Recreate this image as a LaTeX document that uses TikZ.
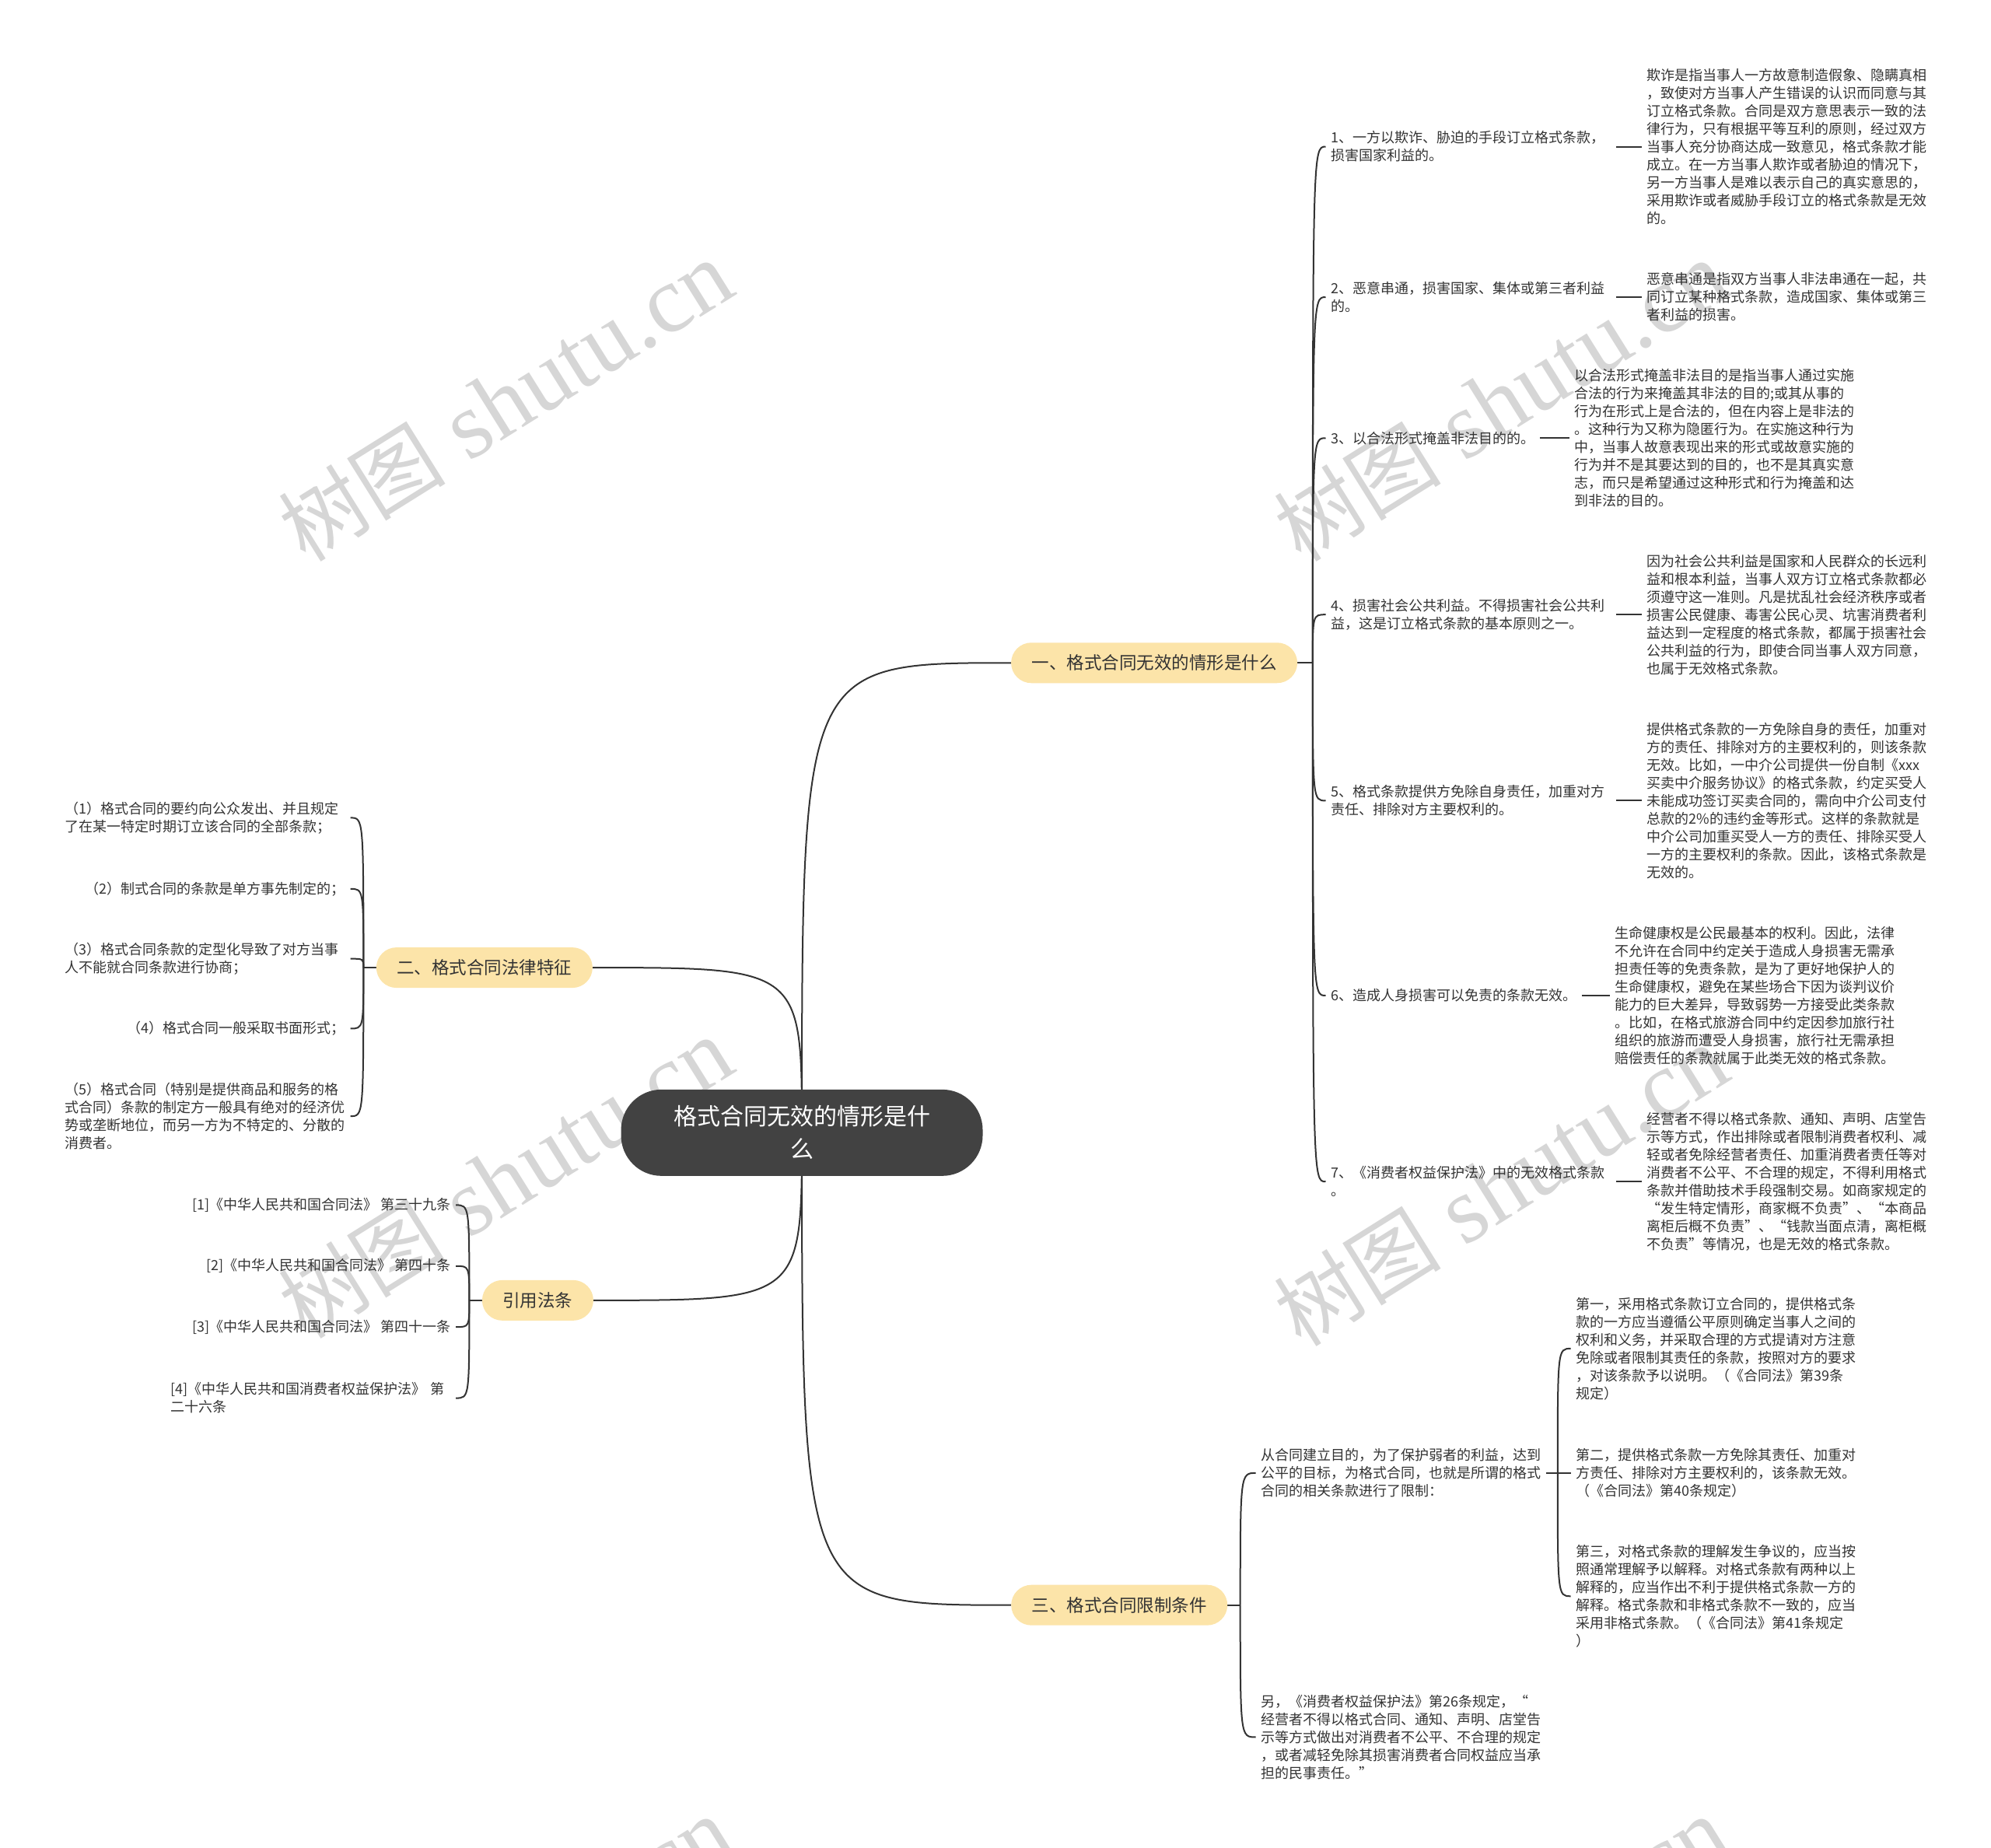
\documentclass[tikz,border=0pt]{standalone}
\usepackage{fontspec}
\setmainfont{Noto Sans CJK SC}
\newfontfamily\wmlatin{Liberation Serif}
\usetikzlibrary{calc}
\definecolor{lvone}{HTML}{FCE4A9}
\definecolor{rootc}{HTML}{424242}
\definecolor{ink}{HTML}{333333}
\definecolor{linec}{HTML}{333333}
\definecolor{wmc}{HTML}{D6D6D6}
\pgfdeclarelayer{bg}
\pgfsetlayers{bg,main}
\tikzset{
  rootnode/.style={rounded corners=52pt, fill=rootc, text=white, minimum width=465pt,
    minimum height=111pt, align=center, font=\fontsize{30pt}{42pt}\selectfont, inner sep=0pt},
  topic/.style={rounded corners=26pt, fill=lvone, text=ink, minimum height=52pt,
    inner xsep=26.5pt, inner ysep=0pt, font=\fontsize{22.5pt}{27pt}\selectfont},
  txt/.style={text=ink, align=left, inner xsep=6.5pt, inner ysep=0pt,
    font=\fontsize{18pt}{23pt}\selectfont},
  wtxt/.style={txt, text width=360pt},
  link/.style={draw=linec, line width=2pt},
  wm/.style={text=wmc, rotate=32, inner sep=0pt},
}
\newcommand{\wmtext}{{\fontsize{108pt}{108pt}\selectfont 树图}{\wmlatin\fontsize{122pt}{122pt}\selectfont\ shutu.cn}}
\begin{document}
\begin{tikzpicture}[x=1.632653pt, y=-1.632653pt]
\useasboundingbox (0,0) rectangle (1568,1455);
% watermarks
\begin{pgfonlayer}{bg}
\node[wm] (w1) at (398,316) {\wmtext};
\node[wm] (w2) at (1182,316) {\wmtext};
\node[wm] (w3) at (398,928) {\wmtext};
\node[wm] (w4) at (1182,934) {\wmtext};
\node[wm] (w5) at (398,1542) {\wmtext};
\node[wm] (w6) at (1182,1542) {\wmtext};
\end{pgfonlayer}

% root and topics
\node[rootnode] (root) at (631.5,892) {格式合同无效的情形是什\\么};
\node[topic] (t1) at (909,522) {一、格式合同无效的情形是什么};
\node[topic] (t2) at (381.5,762) {二、格式合同法律特征};
\node[topic] (t3) at (423.5,1024) {引用法条};
\node[topic] (t4) at (881.5,1264) {三、格式合同限制条件};

% branch one
\node[wtxt, anchor=west] (c1) at (1044,115.5) {1、一方以欺诈、胁迫的手段订立格式条款，\\损害国家利益的。};
\node[wtxt, anchor=west] (c2) at (1044,234) {2、恶意串通，损害国家、集体或第三者利益\\的。};
\node[txt, anchor=west] (c3) at (1044,345) {3、以合法形式掩盖非法目的的。};
\node[wtxt, anchor=west] (c4) at (1044,484) {4、损害社会公共利益。不得损害社会公共利\\益，这是订立格式条款的基本原则之一。};
\node[wtxt, anchor=west] (c5) at (1044,630.5) {5、格式条款提供方免除自身责任，加重对方\\责任、排除对方主要权利的。};
\node[txt, anchor=west] (c6) at (1044,784) {6、造成人身损害可以免责的条款无效。};
\node[wtxt, anchor=west] (c7) at (1044,930.5) {7、《消费者权益保护法》中的无效格式条款\\。};

\node[wtxt, anchor=west] (l1) at (1293,115.5) {欺诈是指当事人一方故意制造假象、隐瞒真相\\，致使对方当事人产生错误的认识而同意与其\\订立格式条款。合同是双方意思表示一致的法\\律行为，只有根据平等互利的原则，经过双方\\当事人充分协商达成一致意见，格式条款才能\\成立。在一方当事人欺诈或者胁迫的情况下，\\另一方当事人是难以表示自己的真实意思的，\\采用欺诈或者威胁手段订立的格式条款是无效\\的。};
\node[wtxt, anchor=west] (l2) at (1293,234) {恶意串通是指双方当事人非法串通在一起，共\\同订立某种格式条款，造成国家、集体或第三\\者利益的损害。};
\node[wtxt, anchor=west] (l3) at (1236,345) {以合法形式掩盖非法目的是指当事人通过实施\\合法的行为来掩盖其非法的目的;或其从事的\\行为在形式上是合法的，但在内容上是非法的\\。这种行为又称为隐匿行为。在实施这种行为\\中，当事人故意表现出来的形式或故意实施的\\行为并不是其要达到的目的，也不是其真实意\\志，而只是希望通过这种形式和行为掩盖和达\\到非法的目的。};
\node[wtxt, anchor=west] (l4) at (1293,484) {因为社会公共利益是国家和人民群众的长远利\\益和根本利益，当事人双方订立格式条款都必\\须遵守这一准则。凡是扰乱社会经济秩序或者\\损害公民健康、毒害公民心灵、坑害消费者利\\益达到一定程度的格式条款，都属于损害社会\\公共利益的行为，即使合同当事人双方同意，\\也属于无效格式条款。};
\node[wtxt, anchor=west] (l5) at (1293,630.5) {提供格式条款的一方免除自身的责任，加重对\\方的责任、排除对方的主要权利的，则该条款\\无效。比如，一中介公司提供一份自制《xxx\\买卖中介服务协议》的格式条款，约定买受人\\未能成功签订买卖合同的，需向中介公司支付\\总款的2\%的违约金等形式。这样的条款就是\\中介公司加重买受人一方的责任、排除买受人\\一方的主要权利的条款。因此，该格式条款是\\无效的。};
\node[wtxt, anchor=west] (l6) at (1268,784) {生命健康权是公民最基本的权利。因此，法律\\不允许在合同中约定关于造成人身损害无需承\\担责任等的免责条款，是为了更好地保护人的\\生命健康权，避免在某些场合下因为谈判议价\\能力的巨大差异，导致弱势一方接受此类条款\\。比如，在格式旅游合同中约定因参加旅行社\\组织的旅游而遭受人身损害，旅行社无需承担\\赔偿责任的条款就属于此类无效的格式条款。};
\node[wtxt, anchor=west] (l7) at (1293,930.5) {经营者不得以格式条款、通知、声明、店堂告\\示等方式，作出排除或者限制消费者权利、减\\轻或者免除经营者责任、加重消费者责任等对\\消费者不公平、不合理的规定，不得利用格式\\条款并借助技术手段强制交易。如商家规定的\\“发生特定情形，商家概不负责”、“本商品\\离柜后概不负责”、“钱款当面点清，离柜概\\不负责”等情况，也是无效的格式条款。};

% branch two
\node[wtxt, anchor=east] (d1) at (276,644) {（1）格式合同的要约向公众发出、并且规定\\了在某一特定时期订立该合同的全部条款；};
\node[txt, anchor=east] (d2) at (276,700) {（2）制式合同的条款是单方事先制定的；};
\node[wtxt, anchor=east] (d3) at (276,755) {（3）格式合同条款的定型化导致了对方当事\\人不能就合同条款进行协商；};
\node[txt, anchor=east] (d4) at (276,810) {（4）格式合同一般采取书面形式；};
\node[wtxt, anchor=east] (d5) at (276,879) {（5）格式合同（特别是提供商品和服务的格\\式合同）条款的制定方一般具有绝对的经济优\\势或垄断地位，而另一方为不特定的、分散的\\消费者。};

% citations
\node[txt, anchor=east] (e1) at (359,949) {[1]《中华人民共和国合同法》 第三十九条};
\node[txt, anchor=east] (e2) at (359,997) {[2]《中华人民共和国合同法》 第四十条};
\node[txt, anchor=east] (e3) at (359,1045) {[3]《中华人民共和国合同法》 第四十一条};
\node[wtxt, anchor=east] (e4) at (359,1101) {[4]《中华人民共和国消费者权益保护法》 第\\二十六条};

% branch three
\node[wtxt, anchor=west] (f1) at (989,1160) {从合同建立目的，为了保护弱者的利益，达到\\公平的目标，为格式合同，也就是所谓的格式\\合同的相关条款进行了限制：};
\node[wtxt, anchor=west] (f2) at (989,1368) {另，《消费者权益保护法》第26条规定，“\\经营者不得以格式合同、通知、声明、店堂告\\示等方式做出对消费者不公平、不合理的规定\\，或者减轻免除其损害消费者合同权益应当承\\担的民事责任。”};
\node[wtxt, anchor=west] (g1) at (1237,1062) {第一，采用格式条款订立合同的，提供格式条\\款的一方应当遵循公平原则确定当事人之间的\\权利和义务，并采取合理的方式提请对方注意\\免除或者限制其责任的条款，按照对方的要求\\，对该条款予以说明。（《合同法》第39条\\规定）};
\node[wtxt, anchor=west] (g2) at (1237,1160) {第二，提供格式条款一方免除其责任、加重对\\方责任、排除对方主要权利的，该条款无效。\\（《合同法》第40条规定）};
\node[wtxt, anchor=west] (g3) at (1237,1257) {第三，对格式条款的理解发生争议的，应当按\\照通常理解予以解释。对格式条款有两种以上\\解释的，应当作出不利于提供格式条款一方的\\解释。格式条款和非格式条款不一致的，应当\\采用非格式条款。（《合同法》第41条规定\\）};

% junctions
\coordinate (j1) at ($(t1.east)+(12,0)$);
\coordinate (j2) at ($(t2.west)+(-10,0)$);
\coordinate (j3) at ($(t3.west)+(-10,0)$);
\coordinate (j4) at ($(t4.east)+(10,0)$);
\coordinate (j5) at ($(f1.east)+(9,0)$);

\begin{pgfonlayer}{bg}
\draw[link] (root.center) .. controls (root.center |- t1.west) .. (t1.west);
\draw[link] (root.center) .. controls (root.center |- t2.east) .. (t2.east);
\draw[link] (root.center) .. controls (root.center |- t3.east) .. (t3.east);
\draw[link] (root.center) .. controls (root.center |- t4.west) .. (t4.west);

\draw[link] (t1.east) -- (j1);
\foreach \n in {c1,c2,c3,c4,c5,c6,c7}
  \draw[link] (j1) .. controls (j1 |- \n.west) .. (\n.west);
\foreach \a/\b in {c1/l1,c2/l2,c3/l3,c4/l4,c5/l5,c6/l6,c7/l7}
  \draw[link] (\a.east) -- (\b.west);

\draw[link] (t2.west) -- (j2);
\foreach \n in {d1,d2,d3,d4,d5}
  \draw[link] (j2) .. controls (j2 |- \n.east) .. (\n.east);

\draw[link] (t3.west) -- (j3);
\foreach \n in {e1,e2,e3,e4}
  \draw[link] (j3) .. controls (j3 |- \n.east) .. (\n.east);

\draw[link] (t4.east) -- (j4);
\foreach \n in {f1,f2}
  \draw[link] (j4) .. controls (j4 |- \n.west) .. (\n.west);

\draw[link] (f1.east) -- (j5);
\foreach \n in {g1,g2,g3}
  \draw[link] (j5) .. controls (j5 |- \n.west) .. (\n.west);
\end{pgfonlayer}
\end{tikzpicture}
\end{document}
